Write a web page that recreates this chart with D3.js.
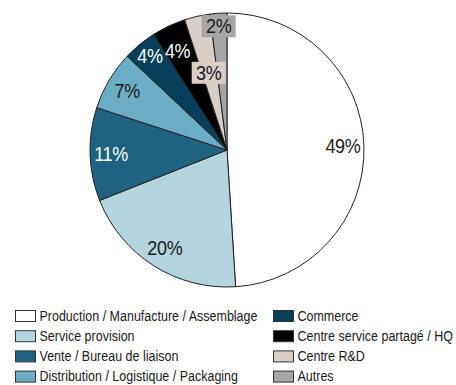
<!DOCTYPE html>
<html>
<head>
<meta charset="utf-8">
<script src="https://cdn.jsdelivr.net/npm/d3@7"></script>
<style>
  html, body { margin: 0; padding: 0; background: #ffffff; }
  svg { display: block; }
  text { font-family: "Liberation Sans", Arial, sans-serif; }
</style>
</head>
<body>
<svg id="chart" width="456" height="385"></svg>
<script>
// Activity breakdown, percentage of sites
const categories = [
  "Production / Manufacture / Assemblage",
  "Service provision",
  "Vente / Bureau de liaison",
  "Distribution / Logistique / Packaging",
  "Commerce",
  "Centre service partagé / HQ",
  "Centre R&D",
  "Autres"
];
const values = [49, 20, 11, 7, 4, 4, 3, 2];
const colors = ["#ffffff", "#b4d4df", "#1f6282", "#6badc6", "#073f5a", "#000000", "#d9cec6", "#a6a6a6"];
const labelColors = ["#1a1a1a", "#1a1a1a", "#ffffff", "#1a1a1a", "#ffffff", "#ffffff", "#1a1a1a", "#1a1a1a"];

const data = categories.map((c, i) => ({ name: c, value: values[i], color: colors[i], labelColor: labelColors[i] }));

const svg = d3.select("#chart");
const cx = 227, cy = 150, radius = 137, labelRadius = 116;

const pie = d3.pie().value(d => d.value).sort(null);
const arc = d3.arc().innerRadius(0).outerRadius(radius);
const labelArc = d3.arc().innerRadius(labelRadius).outerRadius(labelRadius);

const arcs = pie(data);
const g = svg.append("g").attr("transform", `translate(${cx},${cy})`);

g.selectAll("path.slice")
  .data(arcs)
  .enter().append("path")
  .attr("class", "slice")
  .attr("d", arc)
  .attr("fill", d => d.data.color)
  .attr("stroke", "#222")
  .attr("stroke-width", 1);

// small slices near the top get their labels shifted apart so they don't collide
const labelShift = {
  "Commerce": [-3, -4],
  "Centre service partagé / HQ": [0, 6],
  "Centre R&D": [7, 36],
  "Autres": [-1, -8]
};
const boxedLabels = new Set(["Centre R&D", "Autres"]);

const labels = g.selectAll("g.label")
  .data(arcs)
  .enter().append("g")
  .attr("class", "label")
  .attr("transform", d => {
    const [x, y] = labelArc.centroid(d);
    const s = labelShift[d.data.name] || [0, 0];
    return `translate(${x + s[0]},${y + s[1]})`;
  });

labels.each(function(d) {
  const sel = d3.select(this);
  if (boxedLabels.has(d.data.name)) {
    sel.append("rect")
      .attr("x", -17).attr("y", -11)
      .attr("width", 34).attr("height", 22)
      .attr("fill", d.data.color);
  }
  sel.append("text")
    .attr("text-anchor", "middle")
    .attr("dominant-baseline", "central")
    .attr("transform", "scale(1,1.12)")
    .attr("font-size", 18)
    .attr("letter-spacing", -0.3)
    .attr("fill", d.data.labelColor)
    .text(d.data.value + "%");
});

// Legend: two columns of four entries
const legendCols = [15, 273];
const legendTop = 310, rowStep = 20.2;
const legend = svg.append("g");
const items = legend.selectAll("g.item")
  .data(data)
  .enter().append("g")
  .attr("class", "item")
  .attr("transform", (d, i) => `translate(${legendCols[Math.floor(i / 4)]},${legendTop + (i % 4) * rowStep})`);

items.append("rect")
  .attr("x", 0.5).attr("y", 0.5)
  .attr("width", 20).attr("height", 11)
  .attr("fill", d => d.color)
  .attr("stroke", "#333")
  .attr("stroke-width", 1);

items.append("text")
  .attr("x", 24.5)
  .attr("y", 6)
  .attr("dominant-baseline", "central")
  .attr("transform", "translate(0,6) scale(1,1.1) translate(0,-6)")
  .attr("font-size", 12.5)
  .attr("fill", "#1a1a1a")
  .text(d => d.name);
</script>
</body>
</html>
